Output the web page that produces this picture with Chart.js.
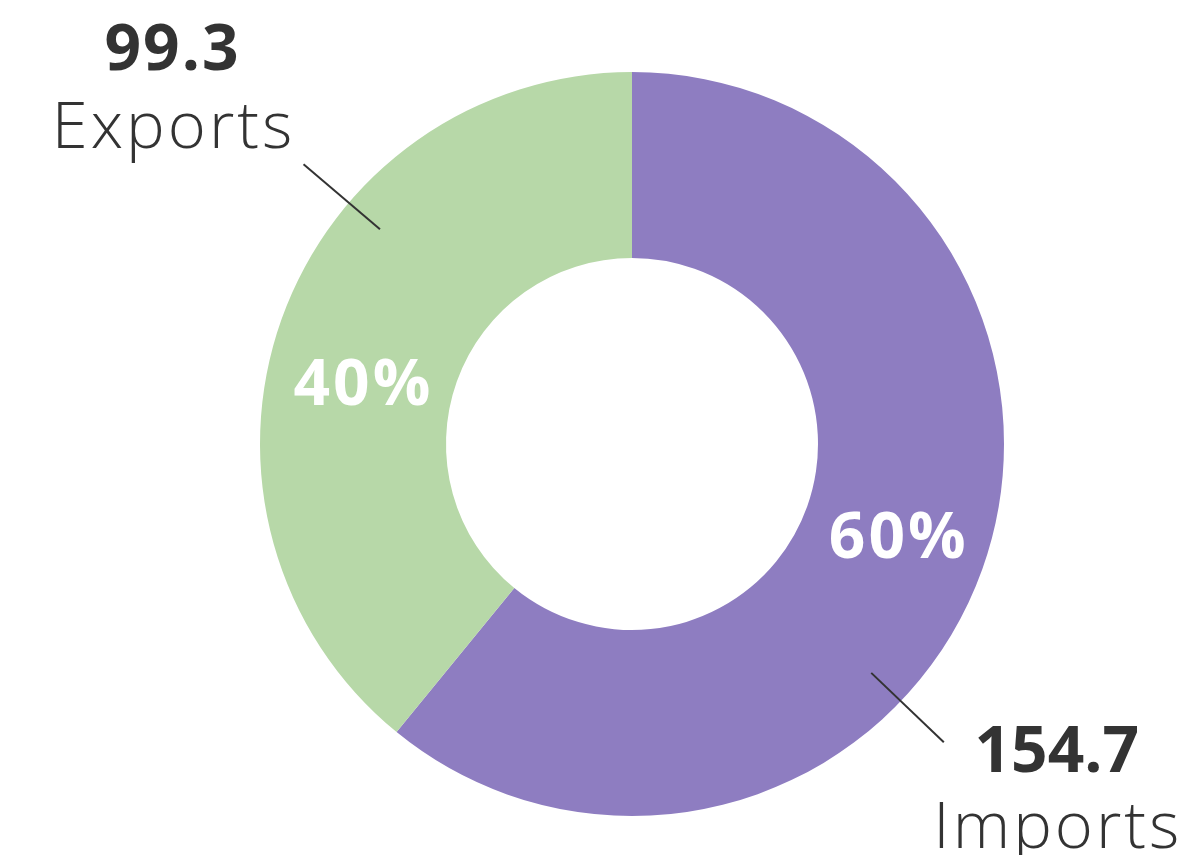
<!DOCTYPE html>
<html>
<head>
<meta charset="utf-8">
<script src="https://cdn.jsdelivr.net/npm/chart.js@4/dist/chart.umd.min.js"></script>
<style>
html,body{margin:0;padding:0;background:#fff;}
#wrap{width:1195px;height:855px;position:relative;}
</style>
</head>
<body>
<div id="wrap"><canvas id="c" width="1195" height="855"></canvas></div>
<script>
const categories = ['Imports', 'Exports'];
const values = [154.7, 99.3];
const valueLabels = ['154.7', '99.3'];
const percentLabels = ['60%', '40%'];
const colors = ['#8E7DC1', '#B7D8A8'];

const deg = Math.PI / 180;

const labelPlugin = {
  id: 'donutLabels',
  afterDatasetsDraw(chart, args, opts) {
    const ctx = chart.ctx;
    const meta = chart.getDatasetMeta(0);
    meta.data.forEach((arc, i) => {
      const p = arc.getProps(['x', 'y', 'startAngle', 'endAngle', 'innerRadius', 'outerRadius'], true);
      const it = opts.items[i];
      const mid = (p.startAngle + p.endAngle) / 2;
      const pa = mid + it.pctShift * deg;
      const pr = (p.innerRadius + p.outerRadius) / 2;
      ctx.save();
      ctx.fillStyle = '#ffffff';
      ctx.font = 'bold 64px "Open Sans"';
      ctx.letterSpacing = '3px';
      ctx.textAlign = 'center';
      ctx.textBaseline = 'middle';
      ctx.fillText(percentLabels[i], p.x + Math.cos(pa) * pr + 4, p.y + Math.sin(pa) * pr + 2);
      // leader line
      const la = mid + it.leaderShift * deg;
      const r1 = p.outerRadius * 0.89, r2 = p.outerRadius * 1.16;
      const x1 = p.x + Math.cos(la) * r1, y1 = p.y + Math.sin(la) * r1;
      const x2 = p.x + Math.cos(la) * r2, y2 = p.y + Math.sin(la) * r2;
      ctx.strokeStyle = '#333333';
      ctx.lineWidth = 2;
      ctx.beginPath();
      ctx.moveTo(x1, y1);
      ctx.lineTo(x2, y2);
      ctx.stroke();
      // outer text
      ctx.fillStyle = '#333333';
      ctx.textBaseline = 'alphabetic';
      ctx.font = 'bold 64px "Open Sans"';
      ctx.letterSpacing = it.valueSpacing;
      ctx.fillText(valueLabels[i], x2 + it.dx + it.valueDx, y2 + it.dyValue);
      ctx.font = '300 65px "Open Sans"';
      ctx.letterSpacing = '3px';
      ctx.fillText(categories[i], x2 + it.dx + it.nameDx, y2 + it.dyName);
      ctx.restore();
    });
  }
};

new Chart(document.getElementById('c'), {
  type: 'doughnut',
  data: {
    labels: categories,
    datasets: [{
      data: values,
      backgroundColor: colors,
      borderWidth: 0,
      hoverOffset: 0
    }]
  },
  options: {
    responsive: false,
    animation: false,
    cutout: '50%',
    layout: { padding: { top: 72, bottom: 39, left: 259, right: 190 } },
    plugins: {
      legend: { display: false },
      tooltip: { enabled: false },
      donutLabels: {
        items: [
          { pctShift: 0, leaderShift: 24.1, dx: 113, dyValue: 30, dyName: 106, valueSpacing: '0px', valueDx: 0, nameDx: 1 },
          { pctShift: -7.3, leaderShift: 20.8, dx: -135, dyValue: -94, dyName: -16, valueSpacing: '2px', valueDx: 4, nameDx: 5 }
        ]
      }
    }
  },
  plugins: [labelPlugin]
});
</script>
</body>
</html>
